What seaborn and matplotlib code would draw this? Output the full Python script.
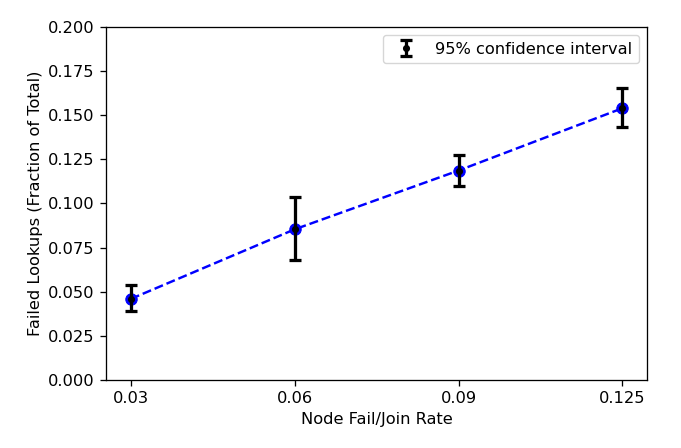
import numpy as np
import pandas as pd
import seaborn as sns
import matplotlib
matplotlib.use("Agg")
import matplotlib.pyplot as plt

rates = ["0.03", "0.06", "0.09", "0.125"]
failed_mean = [0.0459, 0.0853, 0.1186, 0.1539]
ci_low = [0.0393, 0.0678, 0.1100, 0.1430]
ci_high = [0.0538, 0.1039, 0.1275, 0.1653]

# reference looks like it was drawn a bit bigger and scaled down
s = 1.17
plt.rcParams.update({
    "font.size": 10 * s,
    "axes.linewidth": 0.8 * s,
    "xtick.major.size": 3.5 * s,
    "ytick.major.size": 3.5 * s,
    "xtick.major.width": 0.8 * s,
    "ytick.major.width": 0.8 * s,
    "xtick.major.pad": 3.5 * s,
    "ytick.major.pad": 3.5 * s,
})

pos = np.arange(len(rates))
df = pd.DataFrame({"pos": pos, "mean": failed_mean})

fig, ax = plt.subplots(figsize=(6.81, 4.48), dpi=100)

sns.lineplot(data=df, x="pos", y="mean", ax=ax, color="blue", linestyle="--",
             linewidth=1.5 * s, marker="o", markersize=7 * s, markerfacecolor="blue",
             markeredgecolor="blue", zorder=2)

yerr = [np.array(failed_mean) - np.array(ci_low), np.array(ci_high) - np.array(failed_mean)]
ax.errorbar(pos, failed_mean, yerr=yerr, fmt="o", color="black", markersize=3.5 * s,
            elinewidth=2 * s, capsize=3.5 * s, capthick=2 * s,
            label="95% confidence interval", zorder=3)

ax.set_xticks(pos)
ax.set_xticklabels(rates)
ax.set_ylim(0, 0.2)
ax.set_yticks(np.arange(0, 0.201, 0.025))
ax.set_xlabel("Node Fail/Join Rate")
ax.set_ylabel("Failed Lookups (Fraction of Total)")
ax.legend(loc="upper right")

fig.subplots_adjust(left=0.156, right=0.95, top=0.94, bottom=0.152)
fig.savefig("out.png", dpi=100)
